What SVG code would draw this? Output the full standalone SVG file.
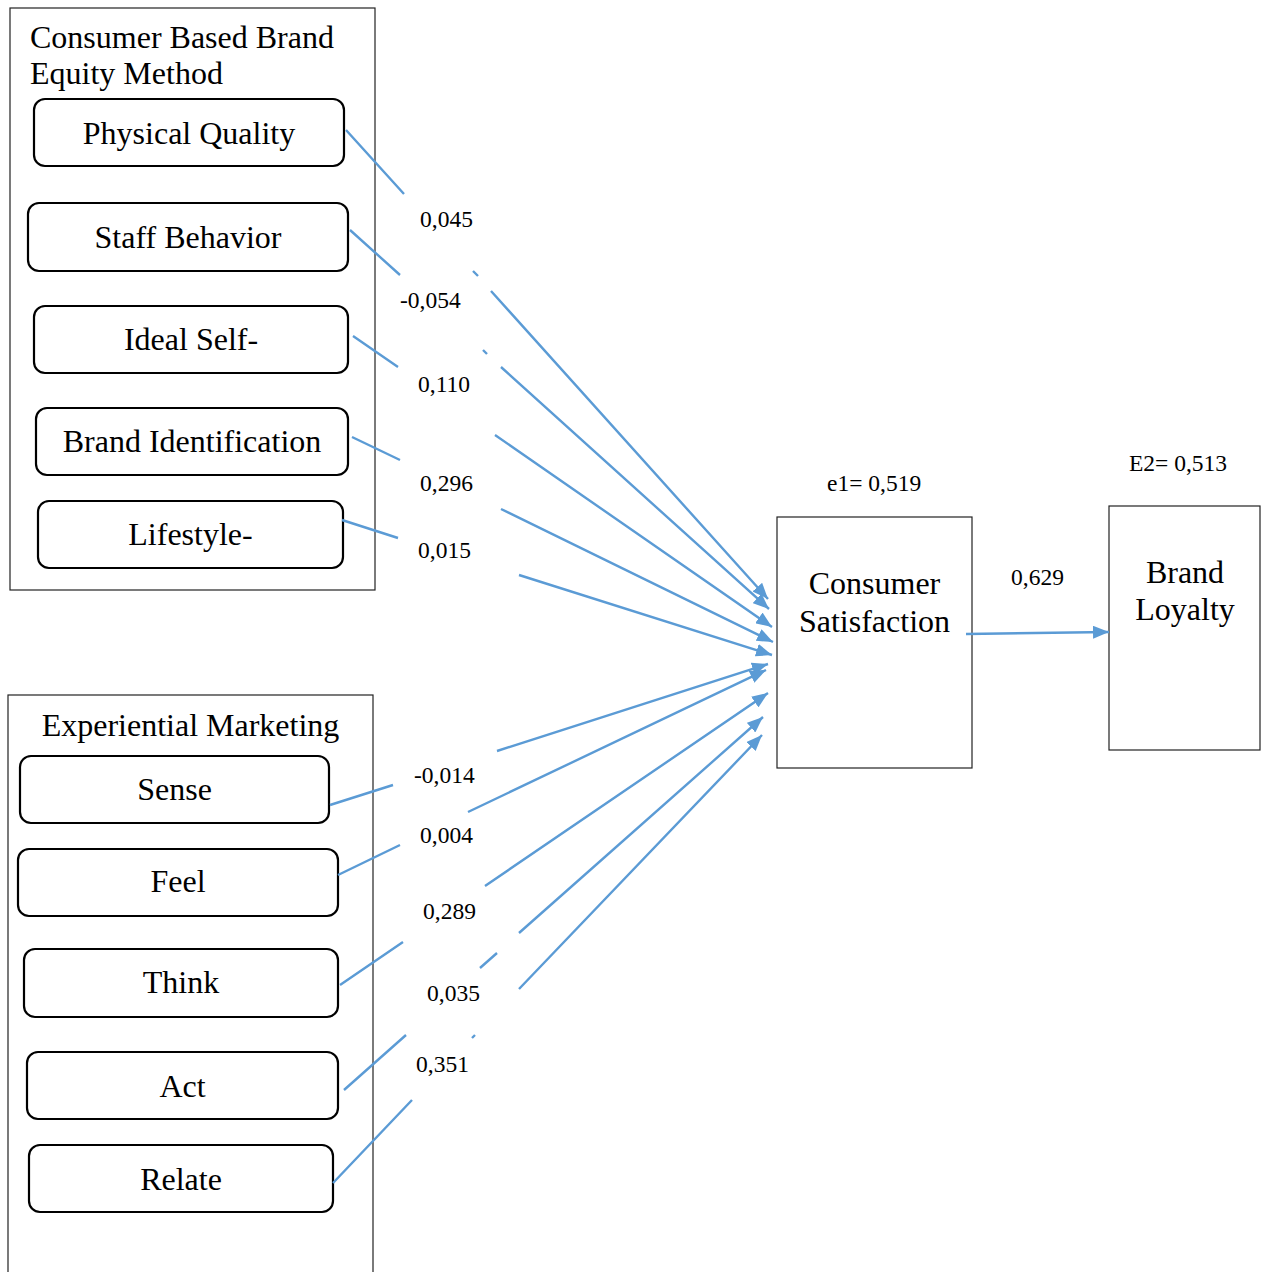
<svg xmlns="http://www.w3.org/2000/svg" width="1261" height="1272" viewBox="0 0 1261 1272">
<style>
.frame{fill:#fff;stroke:#222;stroke-width:1.2}
.item{fill:#fff;stroke:#000;stroke-width:2.2}
.t{font-family:"Liberation Serif","Times New Roman",serif;font-size:32px;fill:#000}
.c{text-anchor:middle}
.lbl{font-family:"Liberation Serif","Times New Roman",serif;font-size:23.5px;fill:#000}
.conn{fill:none;stroke:#5B9BD5;stroke-width:2.4}
</style>
<defs>
<marker id="ah" markerUnits="userSpaceOnUse" markerWidth="17" markerHeight="13" refX="16" refY="6.5" orient="auto">
<path d="M0,0 L16,6.5 L0,13 z" fill="#5B9BD5"/>
</marker>
</defs>
<rect width="1261" height="1272" fill="#fff"/>

<g id="group-cbbe">
<rect class="frame" x="10" y="8" width="365" height="582"/>
<text class="t" x="30" y="48">Consumer Based Brand</text>
<text class="t" x="30" y="84">Equity Method</text>
</g>
<g id="node-physical-quality">
<rect class="item" x="34" y="99" width="310" height="67" rx="11"/>
<text class="t c" x="189" y="144">Physical Quality</text>
</g>
<g id="node-staff-behavior">
<rect class="item" x="28" y="203" width="320" height="68" rx="11"/>
<text class="t c" x="188" y="248">Staff Behavior</text>
</g>
<g id="node-ideal-self">
<rect class="item" x="34" y="306" width="314" height="67" rx="11"/>
<text class="t c" x="191" y="350">Ideal Self-</text>
</g>
<g id="node-brand-identification">
<rect class="item" x="36" y="408" width="312" height="67" rx="11"/>
<text class="t c" x="192" y="452">Brand Identification</text>
</g>
<g id="node-lifestyle">
<rect class="item" x="38" y="501" width="305" height="67" rx="11"/>
<text class="t c" x="190.5" y="545">Lifestyle-</text>
</g>

<g id="group-experiential">
<rect class="frame" x="8" y="695" width="365" height="600"/>
<text class="t c" x="190.5" y="736">Experiential Marketing</text>
</g>
<g id="node-sense">
<rect class="item" x="20" y="756" width="309" height="67" rx="11"/>
<text class="t c" x="174.5" y="800">Sense</text>
</g>
<g id="node-feel">
<rect class="item" x="18" y="849" width="320" height="67" rx="11"/>
<text class="t c" x="178" y="892">Feel</text>
</g>
<g id="node-think">
<rect class="item" x="24" y="949" width="314" height="68" rx="11"/>
<text class="t c" x="181" y="993">Think</text>
</g>
<g id="node-act">
<rect class="item" x="27" y="1052" width="311" height="67" rx="11"/>
<text class="t c" x="182.5" y="1097">Act</text>
</g>
<g id="node-relate">
<rect class="item" x="29" y="1145" width="304" height="67" rx="11"/>
<text class="t c" x="181" y="1190">Relate</text>
</g>

<g id="node-consumer-satisfaction">
<rect class="frame" x="777" y="517" width="195" height="251"/>
<text class="t c" x="874.5" y="594">Consumer</text>
<text class="t c" x="874.5" y="632">Satisfaction</text>
</g>
<g id="node-brand-loyalty">
<rect class="frame" x="1109" y="506" width="151" height="244"/>
<text class="t c" x="1185" y="583">Brand</text>
<text class="t c" x="1185" y="620">Loyalty</text>
</g>

<g id="connectors">
<path class="conn" marker-end="url(#ah)" d="M346,130 L404,194 M473,271 L478,276 M491,291 L768,599"/>
<path class="conn" marker-end="url(#ah)" d="M350,230 L400,275 M483,350 L487,354 M501,367 L769,609"/>
<path class="conn" marker-end="url(#ah)" d="M353,336 L398,367 M495,435 L772,627"/>
<path class="conn" marker-end="url(#ah)" d="M352,437 L400,460 M501,509 L773,642"/>
<path class="conn" marker-end="url(#ah)" d="M342,520 L398,538 M519,575 L772,655"/>
<path class="conn" marker-end="url(#ah)" d="M330,805 L393,785 M497,751 L768,664"/>
<path class="conn" marker-end="url(#ah)" d="M338,875 L400,845 M468,812 L766,670"/>
<path class="conn" marker-end="url(#ah)" d="M340,985 L403,942 M485,886 L768,693"/>
<path class="conn" marker-end="url(#ah)" d="M344,1090 L406,1035 M480,968 L497,953 M519,933 L763,717"/>
<path class="conn" marker-end="url(#ah)" d="M333,1183 L412,1100 M472,1038 L475,1035 M519,989 L762,735"/>
<path class="conn" marker-end="url(#ah)" d="M966,634 L1109,632"/>
</g>

<g id="labels">
<text class="lbl" x="420" y="227">0,045</text>
<text class="lbl" x="400" y="308">-0,054</text>
<text class="lbl" x="418" y="392">0,110</text>
<text class="lbl" x="420" y="491">0,296</text>
<text class="lbl" x="418" y="558">0,015</text>
<text class="lbl" x="414" y="783">-0,014</text>
<text class="lbl" x="420" y="843">0,004</text>
<text class="lbl" x="423" y="919">0,289</text>
<text class="lbl" x="427" y="1001">0,035</text>
<text class="lbl" x="416" y="1072">0,351</text>
<text class="lbl" x="827" y="491">e1= 0,519</text>
<text class="lbl" x="1129" y="471">E2= 0,513</text>
<text class="lbl" x="1011" y="585">0,629</text>
</g>
</svg>
